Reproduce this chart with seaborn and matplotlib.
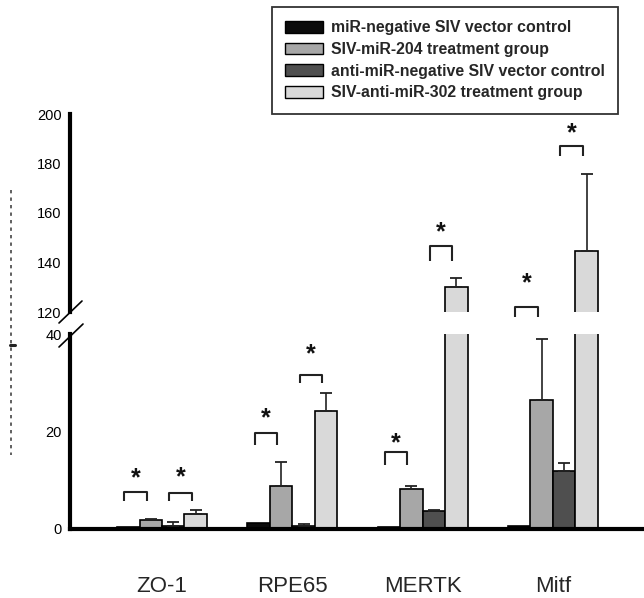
import numpy as np
import pandas as pd
import seaborn as sns
import matplotlib
matplotlib.use("Agg")
import matplotlib.pyplot as plt
from matplotlib.lines import Line2D
from matplotlib.patches import Patch
from matplotlib.container import BarContainer

# ---------------- data ----------------
genes = ["ZO-1", "RPE65", "MERTK", "Mitf"]
groups = ["miR-negative SIV vector control",
          "SIV-miR-204 treatment group",
          "anti-miR-negative SIV vector control",
          "SIV-anti-miR-302 treatment group"]
neg_ctrl = [0.4, 1.2, 0.5, 0.6]
mir204 = [1.9, 8.8, 8.2, 26.5]
anti_ctrl = [0.7, 0.7, 3.7, 11.9]
anti302 = [3.1, 24.2, 130.1, 144.5]
neg_ctrl_err = [0.0, 0.0, 0.0, 0.0]
mir204_err = [0.2, 4.9, 0.6, 12.5]
anti_ctrl_err = [0.8, 0.4, 0.2, 1.6]
anti302_err = [0.8, 3.8, 3.6, 31.3]
lower_ticks = [0, 20, 40]
upper_ticks = [120, 140, 160, 180, 200]
# significance brackets: (gene index, hue a, hue b, top, leg end, star y)
sig_gene = [0, 0, 1, 1, 2, 2, 3, 3]
sig_a = [0, 2, 0, 2, 0, 2, 0, 2]
sig_b = [1, 3, 1, 3, 1, 3, 1, 3]
sig_top = [7.6, 7.4, 19.7, 31.6, 15.8, 146.7, 122.0, 187.1]
sig_leg = [5.7, 5.8, 17.2, 29.9, 13.1, 140.6, 117.9, 183.0]
sig_star = [10.3, 10.5, 22.8, 35.9, 17.6, 152.3, 131.7, 192.3]

colors = ["#0b0b0b", "#a7a7a7", "#4f4f4f", "#d9d9d9"]

rows = []
errs = [neg_ctrl_err, mir204_err, anti_ctrl_err, anti302_err]
for g, vals in zip(groups, [neg_ctrl, mir204, anti_ctrl, anti302]):
    for gene, v in zip(genes, vals):
        rows.append({"gene": gene, "group": g, "value": v})
df = pd.DataFrame(rows)

sns.set_style("white")
plt.rcParams["font.family"] = ["Liberation Sans", "DejaVu Sans"]

W, H = 644, 598
fig = plt.figure(figsize=(W / 100, H / 100), dpi=100)
left = 70 / W
ax_lo = fig.add_axes([left, (H - 529) / H, 1 - left, (529 - 334) / H])
ax_hi = fig.add_axes([left, (H - 312) / H, 1 - left, (312 - 114) / H])

bars = {}
for ax in (ax_lo, ax_hi):
    sns.barplot(data=df, x="gene", y="value", hue="group", order=genes,
                hue_order=groups, palette=colors, width=0.69, saturation=1,
                edgecolor="black", linewidth=1.2, errorbar=None,
                legend=False, ax=ax)
    conts = [c for c in ax.containers if isinstance(c, BarContainer)]
    bars[ax] = conts
    for ci, cont in enumerate(conts):
        xs = [p.get_x() + p.get_width() / 2 for p in cont.patches]
        hs = [p.get_height() for p in cont.patches]
        for x, h, e in zip(xs, hs, errs[ci]):
            if e > 0:
                ax.errorbar([x], [h], yerr=[[0], [e]], fmt="none",
                            ecolor="#222222", elinewidth=1.2, capsize=4,
                            capthick=1.3, zorder=1)
    ax.set_xlim(-0.706, 3.699)
    ax.set_xlabel("")
    ax.set_ylabel("")
    for s in ("top", "right"):
        ax.spines[s].set_visible(False)
    ax.spines["left"].set_linewidth(3.0)
    ax.spines["left"].set_color("black")
    ax.tick_params(axis="y", direction="out", length=3, width=2.5,
                   labelsize=10.5, pad=3, colors="black")

ax_lo.set_ylim(0, 40)
ax_lo.set_yticks(lower_ticks)
ax_lo.spines["bottom"].set_linewidth(3.0)
ax_lo.spines["bottom"].set_color("black")
ax_lo.tick_params(axis="x", length=0, pad=34, labelsize=16)
ax_lo.set_xticks(range(len(genes)))
ax_lo.set_xticklabels(genes)

ax_hi.set_ylim(120, 200)
ax_hi.set_yticks(upper_ticks)
ax_hi.spines["bottom"].set_visible(False)
ax_hi.set_xticks([])

def centre(ax, hue, gi):
    p = bars[ax][hue].patches[gi]
    return p.get_x() + p.get_width() / 2

for gi, a, b, top, leg, star in zip(sig_gene, sig_a, sig_b, sig_top, sig_leg, sig_star):
    ax = ax_hi if top > 40 else ax_lo
    x1 = centre(ax, a, gi) - 0.03
    x2 = centre(ax, b, gi) - 0.03
    ax.plot([x1, x1, x2, x2], [leg, top, top, leg], color="#222222",
            lw=1.5, clip_on=False, solid_capstyle="butt")
    ax.text((x1 + x2) / 2, star, "*", ha="center", va="center",
            fontsize=18, fontweight="bold", color="#111111")

def fx(px):
    return px / W
def fy(py):
    return 1 - py / H

# axis break marks
fig.add_artist(Line2D([fx(59), fx(82)], [fy(323), fy(301)], color="black", lw=1.2))
fig.add_artist(Line2D([fx(59), fx(83)], [fy(347), fy(324)], color="black", lw=1.2))

# cropped y-label remnant (dotted line)
fig.add_artist(Line2D([fx(11), fx(11)], [fy(190), fy(455)], color="#444444",
                      lw=1.2, linestyle=(0, (2, 2.5))))
fig.add_artist(Line2D([fx(10), fx(15)], [fy(345), fy(345)], color="#222222", lw=2.2))

# legend
handles = [Patch(facecolor=c, edgecolor="black", linewidth=1.0) for c in colors]
leg = fig.legend(handles, groups, loc="upper left",
                 bbox_to_anchor=(fx(272), fy(7)), frameon=True, fancybox=False,
                 prop={"family": "Liberation Sans", "weight": "bold", "size": 11.4},
                 handlelength=2.35, handleheight=0.75, handletextpad=0.5,
                 labelspacing=0.42, borderpad=0.85, borderaxespad=0)
leg.get_frame().set_edgecolor("black")
leg.get_frame().set_linewidth(1.3)

fig.savefig("out.png", dpi=100)
